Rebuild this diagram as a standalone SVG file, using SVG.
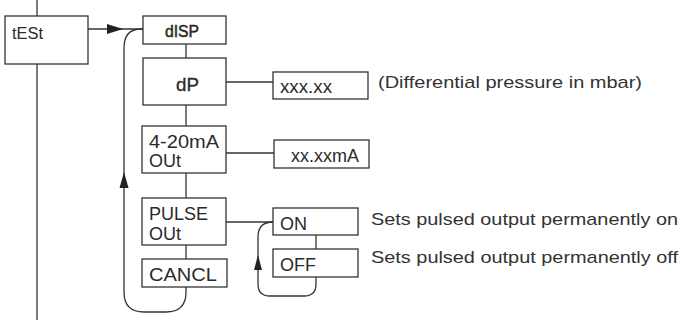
<svg xmlns="http://www.w3.org/2000/svg" width="680" height="322" viewBox="0 0 680 322">
<style>
.box{fill:#fff;stroke:#333;stroke-width:1.3}
.ln{fill:none;stroke:#333;stroke-width:1.3}
.lbl{font-family:"Liberation Sans",Arial,sans-serif;fill:#2a2a2a}
.desc{font-family:"Liberation Sans",Arial,sans-serif;font-size:17px;fill:#333}
</style>
<g id="connectors">
<line class="ln" x1="37" y1="0" x2="37" y2="16"/>
<line class="ln" x1="37" y1="64" x2="37" y2="320"/>
<line class="ln" x1="88" y1="29" x2="143" y2="29"/>
<path d="M107,24 L123,29 L107,34 Z" fill="#222"/>
<path class="ln" d="M143,29 H141 Q124,29 124,48 V292 Q124,312 144,312 H166 Q186,312 186,292 V287"/>
<path d="M119.5,188 L124,172 L128.5,188 Z" fill="#222"/>
<line class="ln" x1="186" y1="44" x2="186" y2="58"/>
<line class="ln" x1="186" y1="105" x2="186" y2="126"/>
<line class="ln" x1="186" y1="173" x2="186" y2="198"/>
<line class="ln" x1="186" y1="245" x2="186" y2="259"/>
<line class="ln" x1="226" y1="82" x2="273" y2="82"/>
<line class="ln" x1="226" y1="153" x2="274" y2="153"/>
<line class="ln" x1="226" y1="222" x2="273" y2="222"/>
<line class="ln" x1="316" y1="235" x2="316" y2="249"/>
<path class="ln" d="M273,222 Q258,222 258,237 V284 Q258,296 270,296 H304 Q316,296 316,284 V277"/>
<path d="M254,270 L258,255 L262,270 Z" fill="#222"/>
</g>
<g id="test"><rect class="box" x="5" y="16" width="83" height="48"/><text class="lbl" x="12" y="39" font-size="16" textLength="31" lengthAdjust="spacingAndGlyphs">tESt</text></g>
<g id="disp"><rect class="box" x="143" y="16" width="83" height="28"/><text class="lbl" x="165" y="37" font-size="16" stroke="#2a2a2a" stroke-width="0.5" textLength="34" lengthAdjust="spacingAndGlyphs">dISP</text></g>
<g id="dp"><rect class="box" x="143" y="58" width="83" height="47"/><text class="lbl" x="176" y="91" font-size="18" stroke="#2a2a2a" stroke-width="0.3" textLength="23" lengthAdjust="spacingAndGlyphs">dP</text></g>
<g id="out420"><rect class="box" x="142" y="126" width="84" height="47"/><text class="lbl" x="149" y="148" font-size="18" textLength="70" lengthAdjust="spacingAndGlyphs">4-20mA</text><text class="lbl" x="149" y="167" font-size="18">OUt</text></g>
<g id="pulse"><rect class="box" x="142" y="198" width="84" height="47"/><text class="lbl" x="149" y="220" font-size="18">PULSE</text><text class="lbl" x="149" y="240" font-size="18">OUt</text></g>
<g id="cancl"><rect class="box" x="142" y="259" width="85" height="28"/><text class="lbl" x="149" y="281" font-size="18" textLength="68" lengthAdjust="spacingAndGlyphs">CANCL</text></g>
<g id="xxx"><rect class="box" x="273" y="72" width="95" height="27"/><text class="lbl" x="280" y="93" font-size="18" textLength="52" lengthAdjust="spacingAndGlyphs">xxx.xx</text></g>
<g id="xxma"><rect class="box" x="274" y="140" width="95" height="28"/><text class="lbl" x="291" y="162" font-size="18" textLength="68" lengthAdjust="spacingAndGlyphs">xx.xxmA</text></g>
<g id="on"><rect class="box" x="273" y="208" width="85" height="27"/><text class="lbl" x="280" y="230" font-size="18">ON</text></g>
<g id="off"><rect class="box" x="273" y="249" width="85" height="28"/><text class="lbl" x="280" y="271" font-size="18">OFF</text></g>
<text class="desc" x="378" y="88" textLength="264" lengthAdjust="spacingAndGlyphs">(Differential pressure in mbar)</text>
<text class="desc" x="371" y="225" textLength="307" lengthAdjust="spacingAndGlyphs">Sets pulsed output permanently on</text>
<text class="desc" x="371" y="263" textLength="307" lengthAdjust="spacingAndGlyphs">Sets pulsed output permanently off</text>
</svg>
